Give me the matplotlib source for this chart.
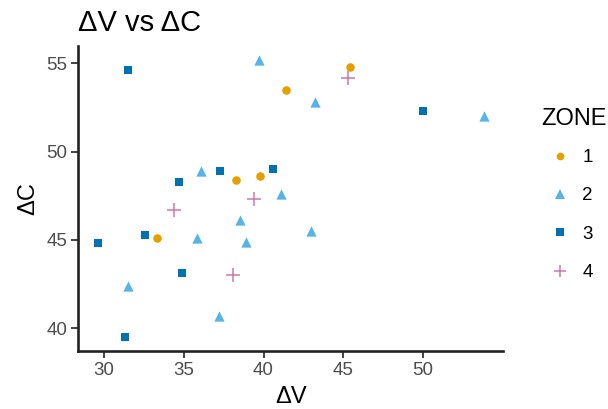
import matplotlib
matplotlib.use("Agg")
import matplotlib.pyplot as plt
from matplotlib.lines import Line2D

plt.rcParams['font.family'] = ['Liberation Sans', 'DejaVu Sans']

# Zone 1
z1_dv = [41.4, 38.3, 39.8, 45.4, 33.3]
z1_dc = [53.5, 48.4, 48.6, 54.8, 45.1]
# Zone 2
z2_dv = [39.7, 43.2, 53.8, 36.1, 41.1, 38.5, 35.8, 38.9, 43.0, 31.5, 37.2]
z2_dc = [55.2, 52.8, 52.0, 48.9, 47.6, 46.1, 45.1, 44.9, 45.5, 42.4, 40.7]
# Zone 3
z3_dv = [31.5, 34.7, 37.3, 40.6, 50.0, 29.6, 32.6, 34.9, 31.3]
z3_dc = [54.6, 48.3, 48.9, 49.0, 52.3, 44.8, 45.3, 43.1, 39.5]
# Zone 4
z4_dv = [45.3, 34.4, 39.4, 38.1]
z4_dc = [54.2, 46.7, 47.3, 43.0]

zones = ["1", "2", "3", "4"]
colors = ["#E69F00", "#56B4E9", "#0072B2", "#CC79A7"]

fig = plt.figure(figsize=(6.08, 4.09), dpi=100)
ax = fig.add_axes([0.1288, 0.1425, 0.8273 - 0.1288, 0.8875 - 0.1425])

ax.scatter(z1_dv, z1_dc, marker="o", s=38, color=colors[0], linewidths=0, zorder=3)
ax.scatter(z2_dv, z2_dc, marker="^", s=55, color=colors[1], linewidths=0, zorder=3)
ax.scatter(z3_dv, z3_dc, marker="s", s=40, color=colors[2], linewidths=0, zorder=3)
ax.scatter(z4_dv, z4_dc, marker="+", s=90, color=colors[3], linewidths=1.1, zorder=3)

all_x = z1_dv + z2_dv + z3_dv + z4_dv
all_y = z1_dc + z2_dc + z3_dc + z4_dc
xr = max(all_x) - min(all_x)
yr = max(all_y) - min(all_y)
ax.set_xlim(min(all_x) - 0.05 * xr, max(all_x) + 0.05 * xr)
ax.set_ylim(min(all_y) - 0.05 * yr, max(all_y) + 0.05 * yr)

ax.set_xticks([30, 35, 40, 45, 50])
ax.set_yticks([40, 45, 50, 55])

for side in ["top", "right"]:
    ax.spines[side].set_visible(False)
for side in ["left", "bottom"]:
    ax.spines[side].set_linewidth(1.9)
    ax.spines[side].set_color("#222222")
ax.tick_params(axis="both", length=5, width=1.3, color="#333333",
               labelsize=13.5, labelcolor="#4D4D4D", pad=3)

ax.set_xlabel("ΔV", fontsize=17, labelpad=5)
ax.set_ylabel("ΔC", fontsize=17, labelpad=5)
ax.set_title("ΔV vs ΔC", fontsize=21, loc="left", pad=11)

# legend: title as its own text, entries indented beneath it
fig.text(541.5 / 608, 1 - 119 / 409, "ZONE", fontsize=17, ha="left", va="center")
handles = [
    Line2D([], [], linestyle="none", marker="o", markersize=5.5, markerfacecolor=colors[0], markeredgewidth=0),
    Line2D([], [], linestyle="none", marker="^", markersize=6.5, markerfacecolor=colors[1], markeredgewidth=0),
    Line2D([], [], linestyle="none", marker="s", markersize=5.5, markerfacecolor=colors[2], markeredgewidth=0),
    Line2D([], [], linestyle="none", marker="+", markersize=8, color=colors[3], markeredgewidth=1.1),
]
fig.legend(handles, zones, loc="upper left",
           bbox_to_anchor=(550.6 / 608, 1 - 149 / 409), frameon=False,
           fontsize=13.5, labelspacing=1.13, borderaxespad=0,
           handlelength=1.0, handletextpad=0.7, borderpad=0)

fig.savefig("out.png", dpi=100, facecolor="white")
